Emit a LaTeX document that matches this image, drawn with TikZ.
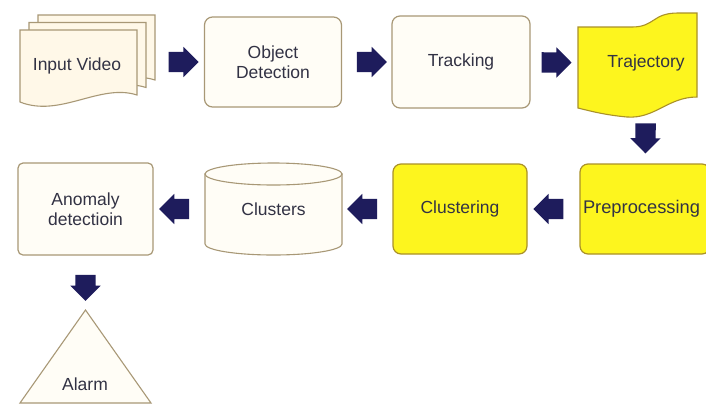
\documentclass[tikz,border=0pt]{standalone}
\usepackage{fontspec}
\setmainfont{Liberation Sans}
\usetikzlibrary{shapes.arrows}
\definecolor{boxline}{RGB}{168,152,118}
\definecolor{yelline}{RGB}{170,145,40}
\definecolor{yelfill}{RGB}{253,245,30}
\definecolor{navy}{RGB}{30,28,92}
\definecolor{txtgray}{RGB}{50,50,68}
\definecolor{cream}{RGB}{255,253,246}
\definecolor{peach}{RGB}{255,248,232}

\begin{document}
\begin{tikzpicture}[x=1pt, y=-1pt, font=\fontsize{17.5}{20}\selectfont, text=txtgray,
  box/.style={draw=boxline, fill=cream, line width=1.2pt, rounded corners=8pt,
              align=center, inner sep=3pt},
  ybox/.style={box, draw=yelline, fill=yelfill},
  sheet/.style={draw=boxline, fill=peach, line width=1.1pt},
  blk/.style={single arrow, fill=navy, minimum height=30pt, minimum width=30pt,
              single arrow head extend=5pt, single arrow head indent=0pt,
              inner xsep=0pt, inner ysep=10pt, sloped, allow upside down}]
  \fill[white] (0,0) rectangle (706,405);
  \useasboundingbox (0,0) rectangle (706,405);
  % stapel van drie bladen voor de video-invoer
  \foreach \d in {2,1,0}{
    \draw[sheet, shift={(9*\d,-7.5*\d)}] (20,30) -- (137,30) -- (137,95)
         .. controls (100,83) and (60,118) .. (20,102) -- cycle;
  }
  \node (vid) at (77,66) {Input Video};
  \coordinate (vidb) at (153,62);
  % bovenste rij
  \node[box, minimum width=137pt, minimum height=90pt] (obj) at (273,62) {Object\\Detection};
  \node[box, minimum width=138pt, minimum height=92pt] (trk) at (461,62) {Tracking};
  \draw[sheet, draw=yelline, fill=yelfill] (578,27) -- (632,27)
       .. controls (655,27) and (652,13) .. (678,13) -- (697,13) -- (697,97)
       .. controls (668,97) and (655,119) .. (627,117)
       .. controls (605,115) and (590,111) .. (578,108) -- cycle;
  \node[minimum width=126pt, minimum height=80pt] (traj) at (646,63) {Trajectory};
  % middelste rij
  \node[ybox, text width=124pt, align=left, minimum height=90pt,
        font=\fontsize{18.3}{21}\selectfont] (pre) at (645,209) {Preprocessing};
  \node[ybox, minimum width=134pt, minimum height=90pt] (clu) at (460,209) {Clustering};
  \draw[sheet, fill=cream] (205,174) -- (205,244)
       arc[start angle=180, end angle=0, x radius=68.5, y radius=11] -- (342,174) -- cycle;
  \draw[sheet, fill=cream] (273.5,174) ellipse[x radius=68.5, y radius=11];
  \node[minimum width=137pt, minimum height=92pt] (clus) at (273.5,209) {\raisebox{-6pt}{Clusters}};
  \node[box, rounded corners=5pt, minimum width=135pt, minimum height=92pt] (anom) at (85.5,209)
       {Anomaly\\detectioin};
  % alarm
  \coordinate (apex) at (85.5,310);
  \draw[sheet, fill=cream] (apex) -- (151,403) -- (20,403) -- cycle;
  \node (alarm) at (85,384) {Alarm};
  % blokpijlen
  \path (vidb) -- node[blk] {} (obj);
  \path (obj) -- node[blk] {} (trk);
  \path (trk) -- node[blk, pos=0.4] {} (traj);
  \path (traj) -- node[blk] {} (pre);
  \path (pre) -- node[blk] {} (clu);
  \path (clu) -- node[blk] {} (clus);
  \path (clus) -- node[blk] {} (anom);
  \path (anom) -- node[blk, minimum height=26pt] {} (apex);
\end{tikzpicture}
\end{document}
